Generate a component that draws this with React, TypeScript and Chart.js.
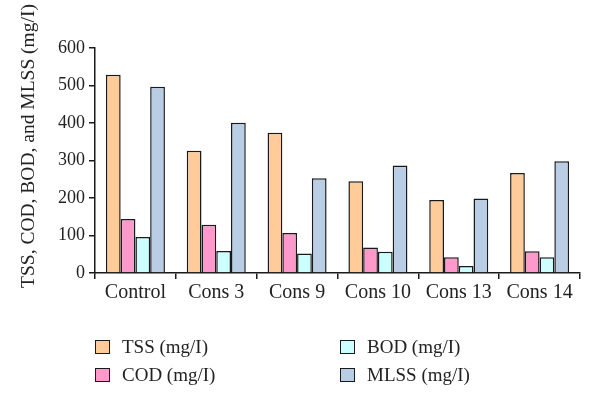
import React, { useEffect, useRef } from "react";
import { Chart, registerables } from "chart.js";

Chart.register(...registerables);

const categories = ["Control", "Cons 3", "Cons 9", "Cons 10", "Cons 13", "Cons 14"];
const tss = [529, 326, 374, 245, 195, 267];
const cod = [144, 129, 107, 68, 42, 58];
const bod = [96, 59, 52, 57, 19, 42];
const mlss = [497, 401, 253, 287, 199, 298];
const seriesNames = ["TSS (mg/I)", "COD (mg/I)", "BOD (mg/I)", "MLSS (mg/I)"];
const seriesColors = ["#FFCC99", "#FF99CC", "#CCFFFF", "#B9CDE5"];
const yTitle = "TSS, COD, BOD, and MLSS (mg/I)";

const FONT = "'Liberation Serif', 'DejaVu Serif', serif";

const titlePlugin = {
  id: "yTitleDraw",
  afterDraw(chart: any) {
    const ctx = chart.ctx;
    ctx.save();
    ctx.translate(29, 146);
    ctx.rotate(-Math.PI / 2);
    ctx.font = `19.5px ${FONT}`;
    ctx.fillStyle = "#222";
    ctx.textAlign = "center";
    ctx.textBaseline = "middle";
    ctx.fillText(yTitle, 0, 0);
    ctx.restore();
  },
};

export default function App() {
  const ref = useRef<HTMLCanvasElement>(null);
  useEffect(() => {
    document.body.style.margin = "0";
    const values = [tss, cod, bod, mlss];
    const chart = new Chart(ref.current!, {
      type: "bar",
      data: {
        labels: categories,
        datasets: values.map((v, i) => ({
          label: seriesNames[i],
          data: v,
          backgroundColor: seriesColors[i],
          borderColor: "#1a1a1a",
          borderWidth: 1.5,
          categoryPercentage: 0.73,
          barPercentage: 1,
        })),
      },
      options: {
        animation: false,
        responsive: false,
        maintainAspectRatio: false,
        layout: { padding: { top: 48, right: 20, bottom: 98, left: 54 } },
        plugins: { legend: { display: false }, tooltip: { enabled: false } },
        scales: {
          x: {
            border: { color: "#1a1a1a", width: 1.5 },
            grid: { offset: true, drawOnChartArea: false, color: "#1a1a1a", lineWidth: 1.5, tickLength: 6 },
            ticks: { color: "#222", font: { family: FONT, size: 20 }, padding: 2 },
          },
          y: {
            min: 0,
            max: 600,
            border: { color: "#1a1a1a", width: 1.5 },
            grid: { drawOnChartArea: false, color: "#1a1a1a", lineWidth: 1.5, tickLength: 6 },
            ticks: { stepSize: 100, color: "#222", font: { family: FONT, size: 18 }, padding: 4 },
          },
        },
      },
      plugins: [titlePlugin],
    });
    return () => chart.destroy();
  }, []);

  const legendItem = (i: number, left: number, top: number) => (
    <div key={i} style={{ position: "absolute", left, top, display: "flex", alignItems: "center", fontFamily: FONT, fontSize: 19, color: "#222", lineHeight: "22px" }}>
      <span style={{ display: "inline-block", width: 13, height: 12, background: seriesColors[i], border: "1.5px solid #1a1a1a", marginRight: 12 }} />
      <span>{seriesNames[i]}</span>
    </div>
  );

  return (
    <div style={{ position: "relative", width: 600, height: 405 }}>
      <canvas ref={ref} width={600} height={405} style={{ display: "block" }} />
      {legendItem(0, 95, 336)}
      {legendItem(1, 95, 364)}
      {legendItem(2, 340, 336)}
      {legendItem(3, 340, 364)}
    </div>
  );
}
